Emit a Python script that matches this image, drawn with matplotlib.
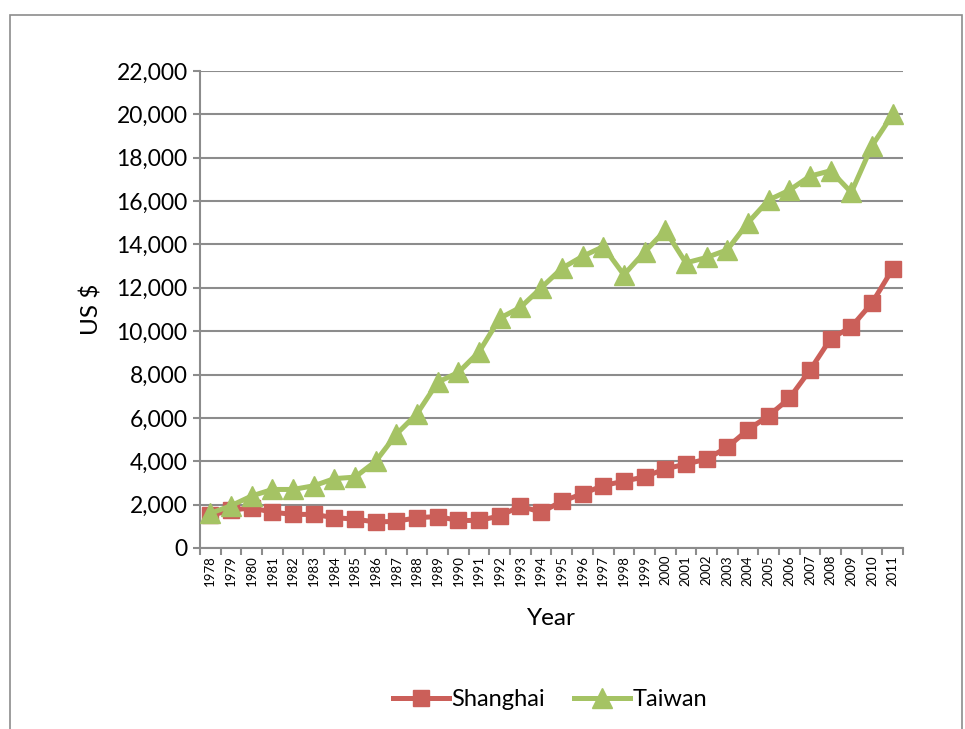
import matplotlib.pyplot as plt
from matplotlib.patches import Rectangle

plt.rcParams['font.family'] = ['Lato', 'DejaVu Sans']

years = list(range(1978, 2012))
shanghai = [1500, 1750, 1850, 1650, 1550, 1550, 1400, 1330, 1200, 1230,
            1400, 1450, 1270, 1270, 1480, 1930, 1650, 2150, 2500, 2880,
            3080, 3280, 3650, 3870, 4100, 4650, 5450, 6100, 6900, 8200,
            9650, 10200, 11300, 12870]
taiwan = [1600, 1950, 2400, 2700, 2700, 2870, 3200, 3270, 4000, 5250,
          6200, 7650, 8100, 9050, 10600, 11100, 12000, 12900, 13450, 13900,
          12600, 13650, 14650, 13150, 13400, 13750, 15000, 16050, 16500, 17150,
          17400, 16400, 18550, 20000]
yticks = list(range(0, 22001, 2000))

red = '#CB5F59'
green = '#A5C364'
grid = '#8C8C8C'

fig = plt.figure(figsize=(9.65, 7.29), dpi=100)
fig.patches.append(Rectangle((10 / 965, -0.01), 952 / 965, 1 - 15 / 729 + 0.01,
                             transform=fig.transFigure, fill=False,
                             edgecolor='#8C8C8C', lw=1.2))
ax = fig.add_axes([200 / 965, 1 - 548 / 729, 703 / 965, 477 / 729])

x = list(range(len(years)))
ax.plot(x, shanghai, color=red, lw=3.6, marker='s', ms=11, label='Shanghai', zorder=3)
ax.plot(x, taiwan, color=green, lw=3.6, marker='^', ms=14, label='Taiwan', zorder=4)

ax.set_xlim(-0.5, len(years) - 0.5)
ax.set_ylim(0, 22000)
ax.set_yticks(yticks)
ax.set_yticklabels([f'{v:,}' for v in yticks], fontsize=16.5)
ax.yaxis.grid(True, color=grid, lw=1.5)
ax.set_axisbelow(True)

ax.set_xticks(x)
ax.set_xticklabels([str(y) for y in years], rotation=90, fontsize=9.5)
ax.set_xticks([i - 0.5 for i in range(len(years) + 1)], minor=True)
ax.tick_params(axis='x', which='major', length=0, pad=5)
ax.tick_params(axis='x', which='minor', length=5, color=grid, width=1.5)
ax.tick_params(axis='y', length=5, color=grid, width=1.5, pad=4)

for side in ('top', 'right'):
    ax.spines[side].set_visible(False)
for side in ('left', 'bottom'):
    ax.spines[side].set_color(grid)
    ax.spines[side].set_linewidth(1.5)

ax.set_xlabel('Year', fontsize=17.5, labelpad=16)
ax.set_ylabel('US $', fontsize=17.5, labelpad=10)

fig.legend(loc='center', bbox_to_anchor=(550 / 965, 1 - 700 / 729), ncol=2,
           frameon=False, fontsize=17, handlelength=2.4, columnspacing=1.2,
           handletextpad=0.1)

fig.savefig('out.png', dpi=100)
